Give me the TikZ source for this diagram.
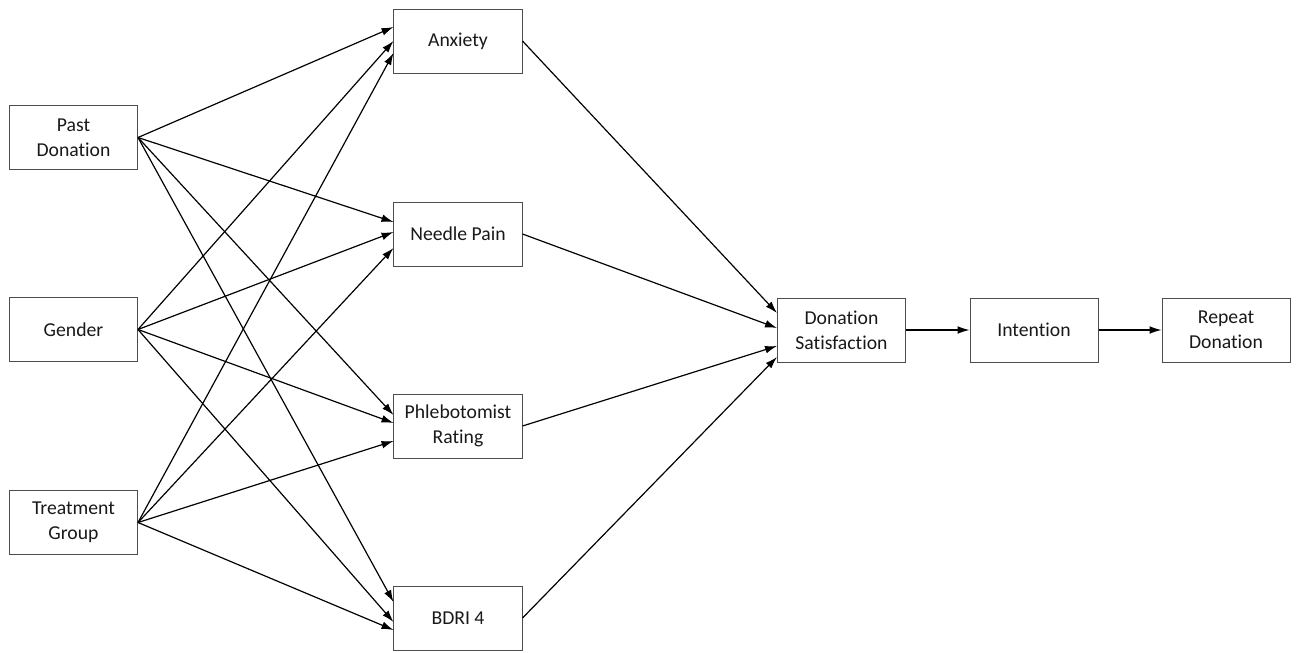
\documentclass[tikz,border=0pt]{standalone}
\usepackage{fontspec}
\setmainfont{Carlito}[Ligatures=NoCommon]
\usetikzlibrary{arrows.meta}

\tikzset{
    box/.style={draw=black!70, line width=0.7pt, fill=white, text=black!90,
        minimum width=3.2cm, minimum height=1.6cm, align=center,
        font=\fontsize{14}{17.8}\selectfont},
    path/.style={line width=0.85pt, -{Latex[length=8.5pt,width=5.5pt]}}
}

\begin{document}
\begin{tikzpicture}[x=0.025cm,y=-0.025cm]
    % Define one pixel of the layout
    \def\U{0.025cm}

    % Keep the page the size of the layout
    \useasboundingbox (0,0) rectangle (1296,652);

    % Predictors on the left
    \node[box] (past) at (73.5,137.5) {Past\\Donation};
    \node[box] (gender) at (73.5,329.5) {Gender};
    \node[box] (treat) at (73.5,522.5) {Treatment\\Group};

    % Mediators in the middle column
    \node[box] (anx) at (458,41) {Anxiety};
    \node[box] (pain) at (458,234) {Needle Pain};
    \node[box] (phleb) at (458,426) {Phlebotomist\\Rating};
    \node[box] (bdri) at (458,618) {BDRI 4};

    % Outcomes on the right
    \node[box] (sat) at (841.5,330) {Donation\\Satisfaction};
    \node[box] (intent) at (1034,330) {Intention};
    \node[box] (repeat) at (1226,330) {Repeat\\Donation};

    % Paths from Past Donation
    \draw[path] (past.east) -- ([yshift=14*\U]anx.west);
    \draw[path] (past.east) -- ([yshift=12*\U]pain.west);
    \draw[path] (past.east) -- ([yshift=11*\U]phleb.west);
    \draw[path] (past.east) -- ([yshift=16*\U]bdri.west);

    % Paths from Gender
    \draw[path] (gender.east) -- ([yshift=0*\U]anx.west);
    \draw[path] (gender.east) -- ([yshift=2*\U]pain.west);
    \draw[path] (gender.east) -- ([yshift=3*\U]phleb.west);
    \draw[path] (gender.east) -- ([yshift=-4*\U]bdri.west);

    % Paths from Treatment Group
    \draw[path] (treat.east) -- ([yshift=-12*\U]anx.west);
    \draw[path] (treat.east) -- ([yshift=-14*\U]pain.west);
    \draw[path] (treat.east) -- ([yshift=-15*\U]phleb.west);
    \draw[path] (treat.east) -- ([yshift=-12*\U]bdri.west);

    % Mediators into satisfaction
    \draw[path] (anx.east) -- ([yshift=17*\U]sat.west);
    \draw[path] (pain.east) -- ([yshift=2*\U]sat.west);
    \draw[path] (phleb.east) -- ([yshift=-16*\U]sat.west);
    \draw[path] (bdri.east) -- ([yshift=-27*\U]sat.west);

    % Chain to repeat donation
    \draw[path] (sat) -- (intent);
    \draw[path] (intent) -- (repeat);

\end{tikzpicture}
\end{document}
